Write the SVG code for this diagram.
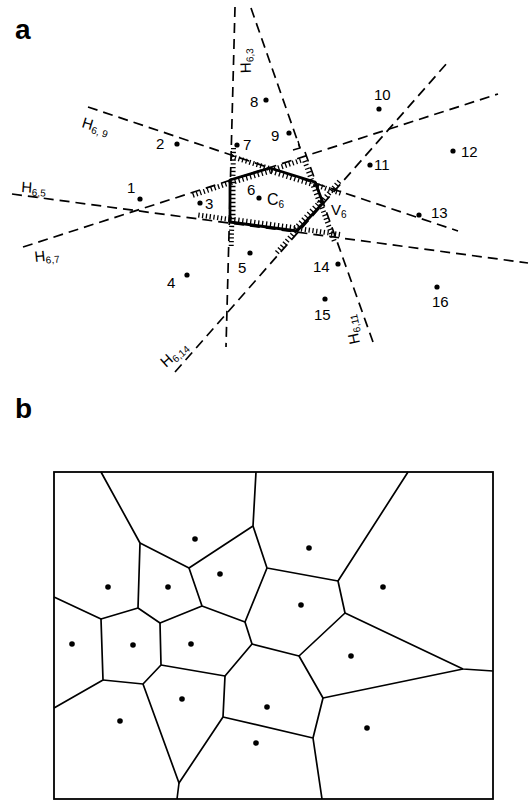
<svg xmlns="http://www.w3.org/2000/svg" width="529" height="802" viewBox="0 0 529 802">
<style>
.bg{fill:#fff}
.dash{fill:none;stroke:#000;stroke-width:1.7;stroke-dasharray:10 6}
.tick{fill:none;stroke:#000;stroke-width:5;stroke-dasharray:1.3 2.5}
.cell{fill:none;stroke:#000;stroke-width:2.8;stroke-linejoin:round}
.vor{fill:none;stroke:#000;stroke-width:1.7;stroke-linejoin:round}
.frame{fill:none;stroke:#000;stroke-width:1.8}
.pt{fill:#000}
.lbl{font-family:"Liberation Sans",Arial,sans-serif;font-size:15px;fill:#000}
.sub{font-size:10px}
.pan{font-family:"Liberation Sans",Arial,sans-serif;font-size:28px;font-weight:bold;fill:#000}
</style>
<defs>
<clipPath id="cellclip"><polygon points="230,180 270,168 315,182 323,203 297,231 230,222"/></clipPath>
</defs>
<rect class="bg" x="0" y="0" width="529" height="802"/>

<text class="pan" x="15" y="39">a</text>
<text class="pan" x="15" y="418">b</text>

<!-- Panel a: bisector half-planes -->
<g id="bisectors">
<path class="dash" d="M23,247 L498,94"/>
<path class="dash" d="M12,194 L528,263"/>
<path class="dash" d="M88,107 L458,231"/>
<path class="dash" d="M175,372 L448,62"/>
<path class="dash" d="M305,152 L373,342"/>
<path class="dash" d="M235,7 L226,347"/>
<path class="dash" d="M251,8 L300,148"/>
</g>
<g id="hatching">
<path class="tick" d="M192.8,195.4 L230.8,182.4"/>
<path class="tick" d="M270.8,170.4 L300.8,160.4"/>
<path class="tick" d="M231.2,156.4 L269.2,168.4"/>
<path class="tick" d="M314.2,184.4 L341.2,193.4"/>
<path class="tick" d="M233.5,148 L232.9,180"/>
<path class="tick" d="M231.8,222 L231.2,246"/>
<path class="tick" d="M198.3,215 L230.3,219.5"/>
<path class="tick" d="M297.3,228.5 L340.3,234.5"/>
<path class="tick" d="M321.1,202.4 L340.1,180.4"/>
<path class="tick" d="M295.1,231.4 L276.1,253.4"/>
<path class="tick" d="M304.6,160.9 L312.6,182.9"/>
<path class="tick" d="M320.6,203.9 L334.6,241.9"/>
<path fill="none" stroke="#000" stroke-width="1.4" d="M293,150 L300,148 L298,141"/>
</g>
<g id="cell-V6">
<polygon clip-path="url(#cellclip)" fill="none" stroke="#000" stroke-width="11" stroke-dasharray="1.3 2.7" points="230,180 270,168 315,182 323,203 297,231 230,222"/>
<polygon class="cell" points="230,180 270,168 315,182 323,203 297,231 230,222"/>
</g>
<g id="points-a">
<circle class="pt" cx="140" cy="199" r="2.6"/>
<circle class="pt" cx="177" cy="144" r="2.6"/>
<circle class="pt" cx="200" cy="203" r="2.6"/>
<circle class="pt" cx="187" cy="275" r="2.6"/>
<circle class="pt" cx="250" cy="253" r="2.6"/>
<circle class="pt" cx="259" cy="198" r="2.6"/>
<circle class="pt" cx="237" cy="145" r="2.6"/>
<circle class="pt" cx="266" cy="100" r="2.6"/>
<circle class="pt" cx="289" cy="133" r="2.6"/>
<circle class="pt" cx="379" cy="109" r="2.6"/>
<circle class="pt" cx="370" cy="165" r="2.6"/>
<circle class="pt" cx="453" cy="151" r="2.6"/>
<circle class="pt" cx="419" cy="215" r="2.6"/>
<circle class="pt" cx="338" cy="264" r="2.6"/>
<circle class="pt" cx="325" cy="299" r="2.6"/>
<circle class="pt" cx="437" cy="287" r="2.6"/>
</g>
<g id="labels-a">
<text class="lbl" x="127" y="193">1</text>
<text class="lbl" x="156" y="149">2</text>
<text class="lbl" x="205" y="209">3</text>
<text class="lbl" x="167" y="288">4</text>
<text class="lbl" x="238" y="273">5</text>
<text class="lbl" x="247" y="195">6</text>
<text class="lbl" x="243" y="150">7</text>
<text class="lbl" x="250" y="107">8</text>
<text class="lbl" x="271" y="141">9</text>
<text class="lbl" x="374" y="100">10</text>
<text class="lbl" x="374" y="170">11</text>
<text class="lbl" x="461" y="157">12</text>
<text class="lbl" x="431" y="218">13</text>
<text class="lbl" x="313" y="272">14</text>
<text class="lbl" x="314" y="320">15</text>
<text class="lbl" x="432" y="307">16</text>
<text class="lbl" x="267" y="205" style="font-size:16px">C<tspan class="sub" dy="3">6</tspan></text>
<text class="lbl" x="331" y="215">V<tspan class="sub" dy="3">6</tspan></text>
<text class="lbl" transform="translate(81,127) rotate(17)">H<tspan class="sub" dy="3">6, 9</tspan></text>
<text class="lbl" transform="translate(21,192) rotate(4)">H<tspan class="sub" dy="3">6,5</tspan></text>
<text class="lbl" transform="translate(35,262) rotate(-6)">H<tspan class="sub" dy="3">6,7</tspan></text>
<text class="lbl" transform="translate(251,73) rotate(-92)">H<tspan class="sub" dy="3">6,3</tspan></text>
<text class="lbl" transform="translate(166,368) rotate(-42)">H<tspan class="sub" dy="3">6,14</tspan></text>
<text class="lbl" transform="translate(360,343) rotate(-102)">H<tspan class="sub" dy="3">6,11</tspan></text>
</g>

<!-- Panel b: Voronoi tessellation -->
<g id="frame-b"><rect class="frame" x="54" y="472" width="439" height="327"/></g>
<g id="voronoi-edges">
<path class="vor" d="M101,472 L140,543 L138,608 L101,619 L54,597"/>
<path class="vor" d="M140,543 L189,568 L253,526 L256,472"/>
<path class="vor" d="M253,526 L267,568 L338,581 L408,472"/>
<path class="vor" d="M267,568 L245,622 L202,606 L189,568"/>
<path class="vor" d="M202,606 L160,623 L138,608"/>
<path class="vor" d="M101,619 L103,680 L54,708"/>
<path class="vor" d="M103,680 L143,684 L161,665 L160,623"/>
<path class="vor" d="M161,665 L225,676 L252,644 L245,622"/>
<path class="vor" d="M252,644 L299,656 L345,613 L338,581"/>
<path class="vor" d="M345,613 L463,669 L493,671"/>
<path class="vor" d="M225,676 L223,717 L313,738 L322,799"/>
<path class="vor" d="M143,684 L179,783 L223,717"/>
<path class="vor" d="M179,783 L177,799"/>
<path class="vor" d="M299,656 L323,698 L313,738"/>
<path class="vor" d="M323,698 L463,669"/>
</g>
<g id="points-b">
<circle class="pt" cx="195" cy="539" r="2.8"/>
<circle class="pt" cx="220" cy="574" r="2.8"/>
<circle class="pt" cx="108" cy="587" r="2.8"/>
<circle class="pt" cx="168" cy="587" r="2.8"/>
<circle class="pt" cx="309" cy="548" r="2.8"/>
<circle class="pt" cx="383" cy="587" r="2.8"/>
<circle class="pt" cx="301" cy="605" r="2.8"/>
<circle class="pt" cx="72" cy="644" r="2.8"/>
<circle class="pt" cx="133" cy="645" r="2.8"/>
<circle class="pt" cx="191" cy="644" r="2.8"/>
<circle class="pt" cx="182" cy="699" r="2.8"/>
<circle class="pt" cx="120" cy="721" r="2.8"/>
<circle class="pt" cx="267" cy="707" r="2.8"/>
<circle class="pt" cx="256" cy="743" r="2.8"/>
<circle class="pt" cx="351" cy="656" r="2.8"/>
<circle class="pt" cx="367" cy="728" r="2.8"/>
</g>
</svg>
